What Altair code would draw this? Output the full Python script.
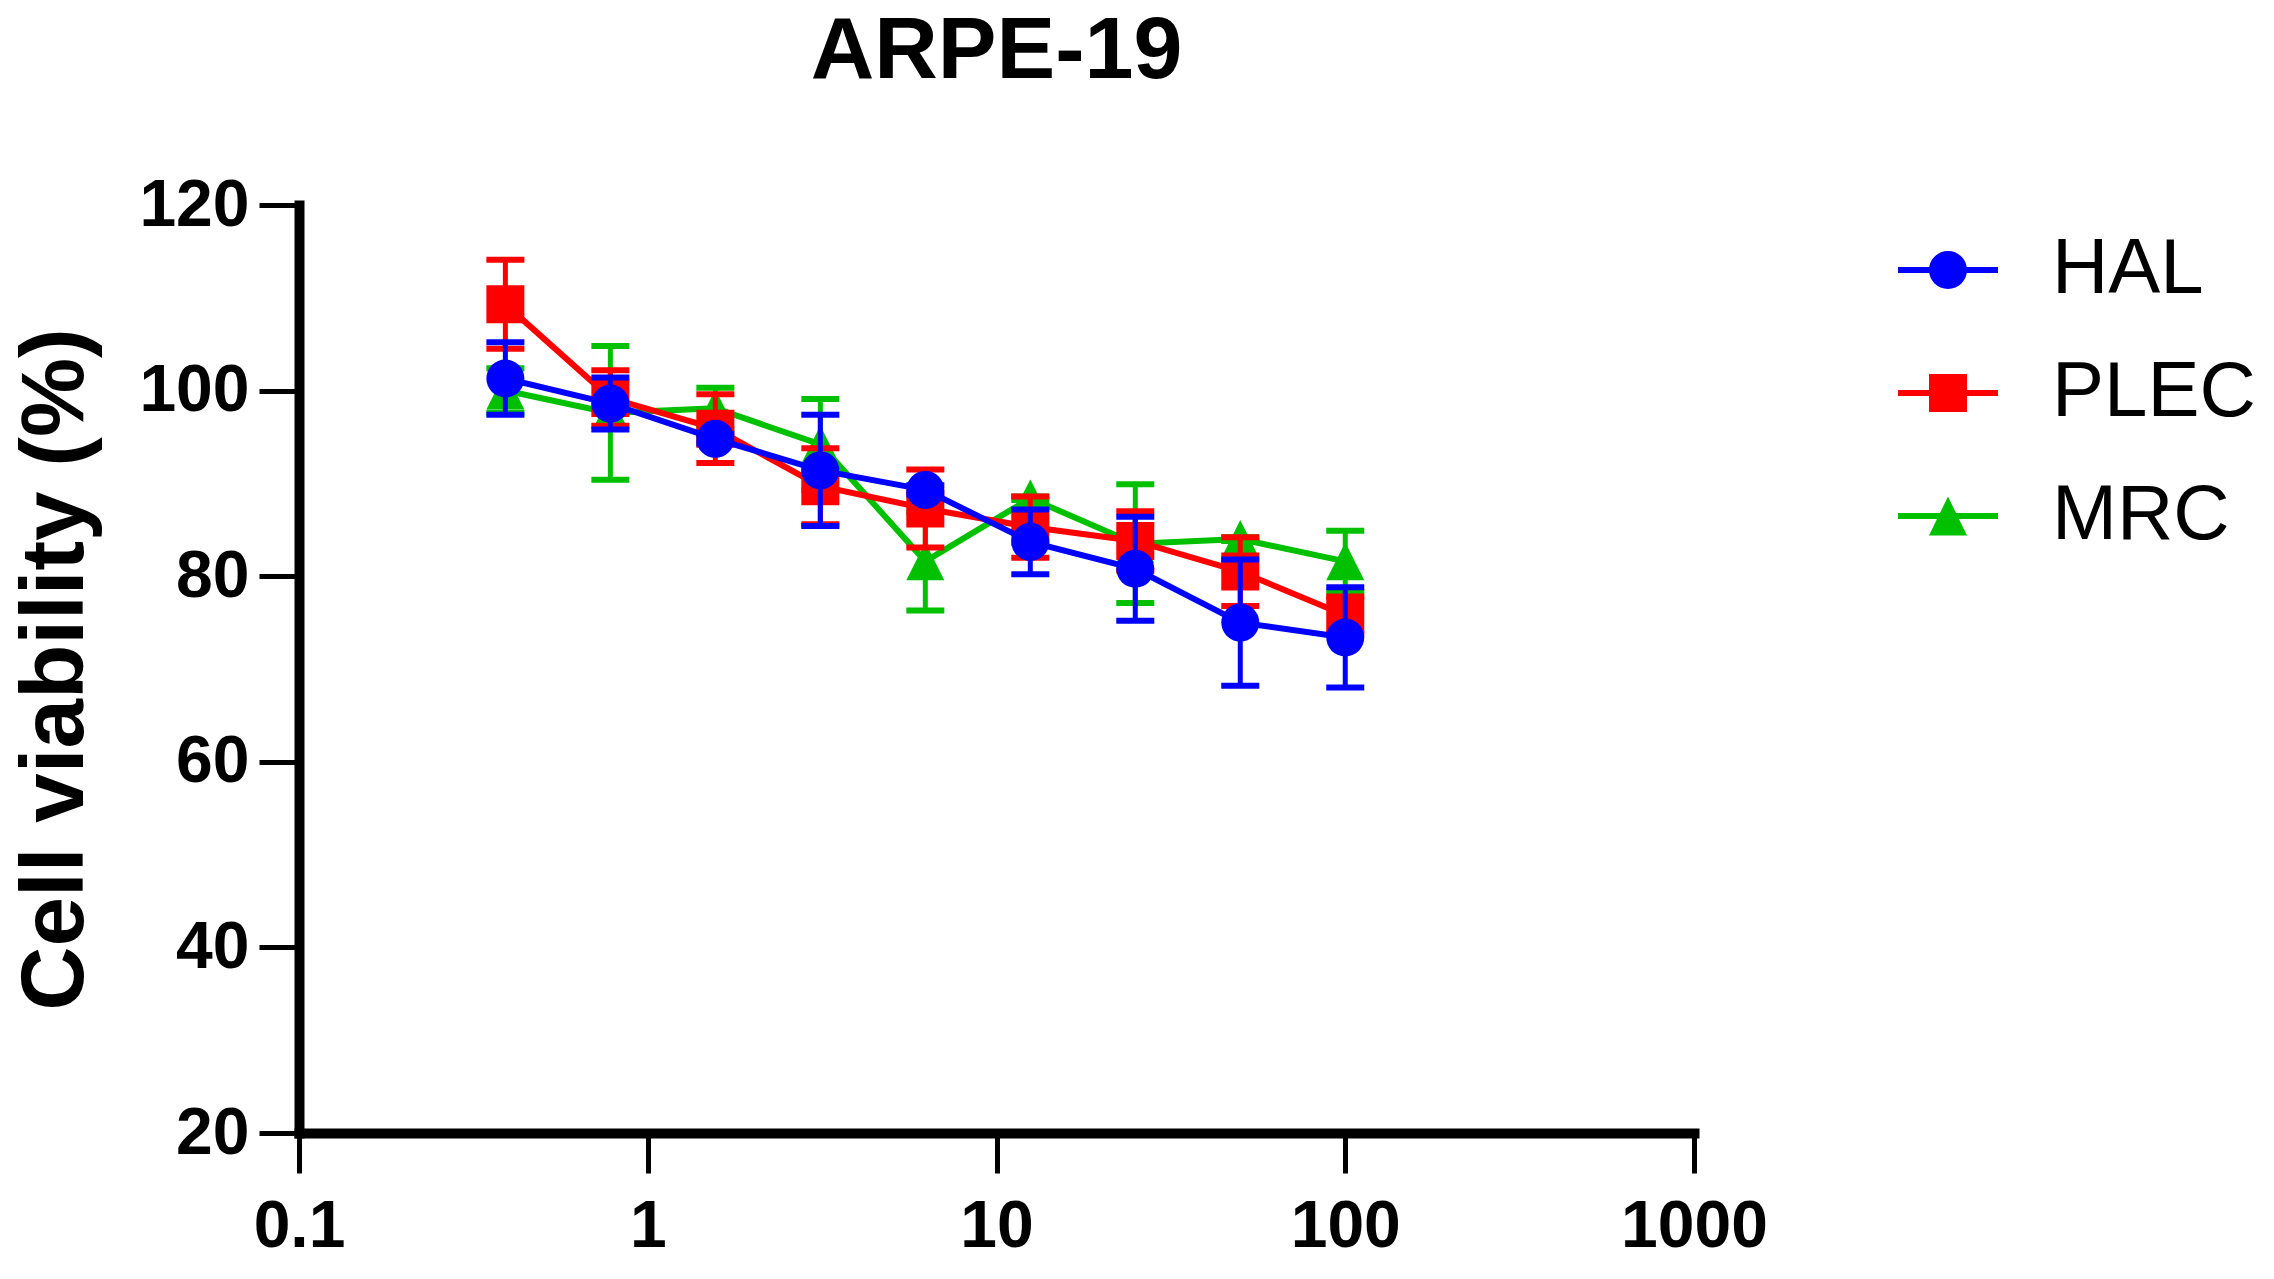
import altair as alt
import pandas as pd

# ---------------- data ----------------
concentration = [0.390625, 0.78125, 1.5625, 3.125, 6.25, 12.5, 25, 50, 100]
series_names = ["HAL", "PLEC", "MRC"]

hal_mean = [101.3, 98.6, 94.8, 91.4, 89.3, 83.7, 80.8, 75.0, 73.4]
hal_sd = [3.9, 2.8, 0.5, 6.0, 0.5, 3.5, 5.6, 6.8, 5.4]

plec_mean = [109.3, 99.2, 95.9, 89.7, 87.3, 85.3, 83.8, 80.5, 75.8]
plec_sd = [4.8, 3.0, 3.7, 4.1, 4.2, 3.3, 3.2, 3.7, 2.0]

mrc_mean = [100.0, 97.6, 98.1, 94.2, 81.6, 88.4, 83.5, 84.0, 81.6]
mrc_sd = [2.4, 7.2, 2.2, 4.9, 5.3, 0.2, 6.4, 0.2, 3.3]

x_ticks = [0.1, 1, 10, 100, 1000]
y_ticks = [20, 40, 60, 80, 100, 120]

chart_title = "ARPE-19"
y_title = "Cell viability (%)"

# ---------------- styling ----------------
FONT = "Liberation Sans"
colors = ["#0000FF", "#FF0000", "#00C000"]
color_of = dict(zip(series_names, colors))

marker_shapes = ["circle", "square", "M0,-1L1,1L-1,1Z"]

bar = "M-1,-0.06L1,-0.06L1,0.06L-1,0.06Z"
legend_shapes = [
    bar + "M-0.38,0A0.38,0.38 0 1,1 0.38,0A0.38,0.38 0 1,1 -0.38,0Z",
    bar + "M-0.38,-0.38L0.38,-0.38L0.38,0.38L-0.38,0.38Z",
    bar + "M0,-0.39L0.38,0.39L-0.38,0.39Z",
]

rows = []
for name, means, sds in [("HAL", hal_mean, hal_sd),
                         ("PLEC", plec_mean, plec_sd),
                         ("MRC", mrc_mean, mrc_sd)]:
    for c, m, s in zip(concentration, means, sds):
        rows.append({"series": name, "conc": c, "mean": m,
                     "lo": m - s, "hi": m + s})
df = pd.DataFrame(rows)

x_axis = alt.Axis(
    values=x_ticks, format="~g", title=None, grid=False,
    labelFont=FONT, labelFontWeight="bold", labelFontSize=66,
    labelColor="black", labelPadding=21, labelFlush=False,
    labelOverlap=False, tickSize=40, tickWidth=5, tickColor="black",
    domainWidth=10, domainColor="black", domainCap="square",
)
y_axis = alt.Axis(
    values=y_ticks, title=y_title, grid=False,
    labelFont=FONT, labelFontWeight="bold", labelFontSize=66,
    labelColor="black", labelPadding=10, labelFlush=False,
    labelOverlap=False, tickSize=40, tickWidth=5, tickColor="black",
    domainWidth=10, domainColor="black", domainCap="square",
    titleFont=FONT, titleFontWeight="bold", titleFontSize=89,
    titleColor="black", titleX=-217, titleY=464, titleAngle=270,
    titleAlign="center", titleBaseline="alphabetic",
)
x_scale = alt.Scale(type="log", domain=[0.1, 1000])
y_scale = alt.Scale(domain=[20, 120], nice=False, zero=False)


def X():
    return alt.X("conc:Q", scale=x_scale, axis=x_axis)


def Ym(field="mean:Q"):
    return alt.Y(field, scale=y_scale, axis=y_axis)


layers = []
for name in ["MRC", "PLEC", "HAL"]:
    base = alt.Chart(df).transform_filter(alt.datum.series == name)
    col = color_of[name]
    line = base.mark_line(color=col, strokeWidth=6).encode(x=X(), y=Ym())
    rule = base.mark_rule(color=col, strokeWidth=5).encode(
        x=X(), y=Ym("lo:Q"), y2="hi:Q")
    caps = base.transform_fold(["lo", "hi"], as_=["end", "cap"]).mark_tick(
        color=col, orient="horizontal", size=38, thickness=6, opacity=1
    ).encode(x=X(), y=Ym("cap:Q"))
    pts = base.mark_point(filled=True, size=1444, opacity=1, strokeWidth=0).encode(
        x=X(), y=Ym(),
        color=alt.Color("series:N",
                        scale=alt.Scale(domain=series_names, range=colors),
                        legend=None),
        shape=alt.Shape("series:N",
                        scale=alt.Scale(domain=series_names, range=marker_shapes),
                        legend=None),
    )
    layers += [line, rule, caps, pts]

# legend carrier: same series, drawn only as legend entries (line + marker)
legend = alt.Legend(
    title=None, orient="none", legendX=1599, legendY=15, padding=0,
    symbolSize=10000, symbolStrokeWidth=0, symbolOpacity=1,
    labelFont=FONT, labelFontSize=78, labelColor="black",
    labelOffset=54, rowPadding=34, labelLimit=1000,
)
carrier = alt.Chart(df).transform_filter("false").mark_point(
    filled=True, size=10000, opacity=1, strokeWidth=0
).encode(
    x=X(), y=Ym(),
    color=alt.Color("series:N",
                    scale=alt.Scale(domain=series_names, range=colors),
                    legend=legend),
    shape=alt.Shape("series:N",
                    scale=alt.Scale(domain=series_names, range=legend_shapes),
                    legend=legend),
)
layers.append(carrier)

chart = alt.layer(*layers).resolve_scale(
    color="independent", shape="independent"
).properties(
    width=1395,
    height=928,
    background="white",
    autosize=alt.AutoSizeParams(type="none"),
    padding={"left": 291, "top": 197, "right": 572, "bottom": 130},
    title=alt.TitleParams(
        chart_title, font=FONT, fontSize=88, fontWeight="bold",
        color="black", anchor="middle", baseline="alphabetic", offset=6,
    ),
).configure_view(stroke=None)

chart.save("out.html", embed_options={"renderer": "svg", "actions": False})
